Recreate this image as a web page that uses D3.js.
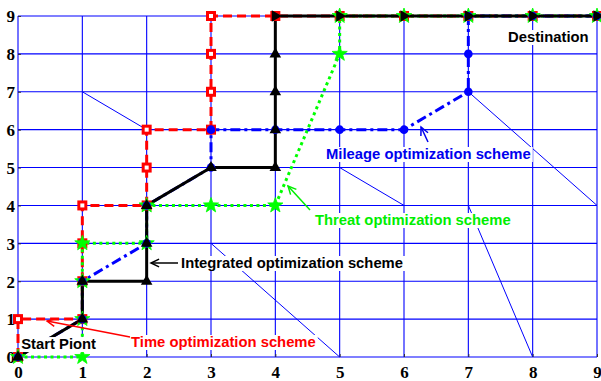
<!DOCTYPE html>
<html><head><meta charset="utf-8">
<script src="https://cdn.jsdelivr.net/npm/d3@7"></script>
<style>html,body{margin:0;padding:0;background:#fff;}svg{display:block;}</style>
</head><body>
<svg id="chart" width="601" height="381"></svg>
<script>
// ---------- data ----------
const xTicks = [0,1,2,3,4,5,6,7,8,9];
const yTicks = [0,1,2,3,4,5,6,7,8,9];

const timeX = [0,0,1,1,1,1,2,2,2,3,3,3,3,4,5,6,7,8,9];
const timeY = [0,1,1,2,3,4,4,5,6,6,7,8,9,9,9,9,9,9,9];

const threatX = [0,1,1,1,1,2,2,3,4,5,5,6,7,8,9];
const threatY = [0,0,1,2,3,3,4,4,4,8,9,9,9,9,9];

const mileageX = [0,1,1,2,2,3,3,4,5,6,7,7,7,8,9];
const mileageY = [0,1,2,3,4,5,6,6,6,6,7,8,9,9,9];

const integX = [0,1,1,2,2,2,3,4,4,4,4,4,5,6,7,8,9];
const integY = [0,1,2,2,3,4,5,5,6,7,8,9,9,9,9,9,9];

// thin diagonal network links: [x1,y1,x2,y2]
const links = [[1,7,2,6],[3,3,5,0],[5,5,6,4],[7,7,9,4],[7,4,8,0]];

// annotation texts (data coords of text anchor) and arrows (tail -> tip)
const labelText = ["Start Piont","Time optimization scheme","Integrated optimization scheme","Threat optimization scheme","Mileage optimization scheme","Destination"];
const labelPos  = [[0.05,0.21],[1.757,0.264],[2.534,2.349],[4.617,3.484],[4.788,5.226],[7.617,8.314]];
const labelColor= ["#000","#ff0000","#000","#00ee00","#0000ee","#000"];
const arrowTail = [null,[1.741,0.528],[2.487,2.481],[4.539,3.880],[6.373,5.674],null];
const arrowTip  = [null,[0.451,0.950],[2.067,2.481],[4.197,4.513],[6.265,6.070],null];

// ---------- chart ----------
const svg = d3.select("#chart");
const x = d3.scaleLinear().domain([0,9]).range([18,597]);
const y = d3.scaleLinear().domain([0,9]).range([357,16]);

const gridC = "#0000ff";
const g = svg.append("g");

// grid
g.selectAll("line.vx").data(xTicks).join("line")
  .attr("x1",d=>x(d)).attr("x2",d=>x(d)).attr("y1",y(0)).attr("y2",y(9))
  .attr("stroke",gridC).attr("stroke-width",1.1);
g.selectAll("line.hy").data(yTicks).join("line")
  .attr("y1",d=>y(d)).attr("y2",d=>y(d)).attr("x1",x(0)).attr("x2",x(9))
  .attr("stroke",gridC).attr("stroke-width",1.1);

// diagonal links
g.selectAll("line.lk").data(links).join("line")
  .attr("x1",d=>x(d[0])).attr("y1",d=>y(d[1])).attr("x2",d=>x(d[2])).attr("y2",d=>y(d[3]))
  .attr("stroke",gridC).attr("stroke-width",1);

// axis ticks (inside) and labels
const xAxis = d3.axisBottom(x).tickValues(xTicks).tickSizeInner(-3).tickSizeOuter(0).tickPadding(9).tickFormat(d3.format("d"));
const yAxis = d3.axisLeft(y).tickValues(yTicks).tickSizeInner(-3).tickSizeOuter(0).tickPadding(5).tickFormat(d3.format("d"));
const ax = svg.append("g").attr("transform",`translate(0,${y(0)})`).call(xAxis);
const ay = svg.append("g").attr("transform",`translate(${x(0)},0)`).call(yAxis);
[ax,ay].forEach(a=>{
  a.select(".domain").remove();
  a.selectAll(".tick line").attr("stroke","#333").attr("stroke-width",1);
  a.selectAll(".tick text").attr("fill","#000")
    .style("font-family","'Liberation Serif','Times New Roman',serif")
    .style("font-weight","bold").style("font-size","17px");
});
ax.selectAll(".tick text").attr("dy","0.71em");
ay.selectAll(".tick text").attr("x",-3).attr("dy","0.34em");

// series
function pts(xs,ys){ return xs.map((v,i)=>[v,ys[i]]); }
const lineGen = d3.line().x(d=>x(d[0])).y(d=>y(d[1]));

const timeP = pts(timeX,timeY), threatP = pts(threatX,threatY),
      mileP = pts(mileageX,mileageY), integP = pts(integX,integY);

const sg = svg.append("g");
sg.append("path").datum(timeP).attr("d",lineGen).attr("fill","none")
  .attr("stroke","#ff0000").attr("stroke-width",3).attr("stroke-dasharray","9,5");
sg.append("path").datum(threatP).attr("d",lineGen).attr("fill","none")
  .attr("stroke","#00ff00").attr("stroke-width",3).attr("stroke-dasharray","3,3.5");
sg.append("path").datum(mileP).attr("d",lineGen).attr("fill","none")
  .attr("stroke","#0000ff").attr("stroke-width",3).attr("stroke-dasharray","10,4,3,4");
sg.append("path").datum(integP).attr("d",lineGen).attr("fill","none")
  .attr("stroke","#000").attr("stroke-width",3);

// markers
sg.selectAll("rect.tm").data(timeP).join("rect")
  .attr("x",d=>x(d[0])-3.5).attr("y",d=>y(d[1])-3.5).attr("width",7).attr("height",7)
  .attr("fill","#fff").attr("stroke","#ff0000").attr("stroke-width",3);

function starPath(ro,ri){
  let p=[];
  for(let k=0;k<10;k++){
    const r = k%2===0?ro:ri, a = -Math.PI/2 + k*Math.PI/5;
    p.push([r*Math.cos(a), r*Math.sin(a)]);
  }
  return "M"+p.map(q=>q[0].toFixed(2)+","+q[1].toFixed(2)).join("L")+"Z";
}
sg.selectAll("path.th").data(threatP).join("path")
  .attr("d",starPath(8,3.2))
  .attr("transform",d=>`translate(${x(d[0])},${y(d[1])})`)
  .attr("fill","#00ff00").attr("stroke","#00ff00").attr("stroke-width",0.8);

sg.selectAll("circle.mi").data(mileP).join("circle")
  .attr("cx",d=>x(d[0])).attr("cy",d=>y(d[1])).attr("r",4.3)
  .attr("fill","#0000ff");

const triUp = "M0,-6.5L5.8,3.5L-5.8,3.5Z";
const triRight = "M6.5,0L-3.5,5.8L-3.5,-5.8Z";
sg.selectAll("path.in").data(integP).join("path")
  .attr("d",d=>d[1]===9?triRight:triUp)
  .attr("transform",d=>`translate(${x(d[0])},${y(d[1])})`)
  .attr("fill","#000");

// annotations
const ag = svg.append("g");
labelText.forEach((t,i)=>{
  const tx = ag.append("text").text(t)
    .attr("x",x(labelPos[i][0])).attr("y",y(labelPos[i][1]))
    .attr("fill",labelColor[i])
    .style("font-family","'Liberation Sans',Arial,sans-serif")
    .style("font-weight","bold").style("font-size","14.8px");
  const bb = tx.node().getBBox();
  ag.insert("rect","text")
    .attr("x",bb.x-1).attr("y",bb.y+1).attr("width",bb.width+3).attr("height",bb.height-1)
    .attr("fill","#fff");
  if(arrowTail[i]){
    const x1=x(arrowTail[i][0]), y1=y(arrowTail[i][1]), x2=x(arrowTip[i][0]), y2=y(arrowTip[i][1]);
    const ang = Math.atan2(y2-y1,x2-x1), L=9, w=0.45;
    ag.append("line").attr("x1",x1).attr("y1",y1).attr("x2",x2).attr("y2",y2)
      .attr("stroke",labelColor[i]).attr("stroke-width",1.5);
    const pA=[x2-L*Math.cos(ang-w), y2-L*Math.sin(ang-w)];
    const pB=[x2-L*Math.cos(ang+w), y2-L*Math.sin(ang+w)];
    ag.append("path").attr("d",`M${pA}L${x2},${y2}L${pB}`)
      .attr("fill","none").attr("stroke",labelColor[i]).attr("stroke-width",1.5);
  }
});
</script>
</body></html>
